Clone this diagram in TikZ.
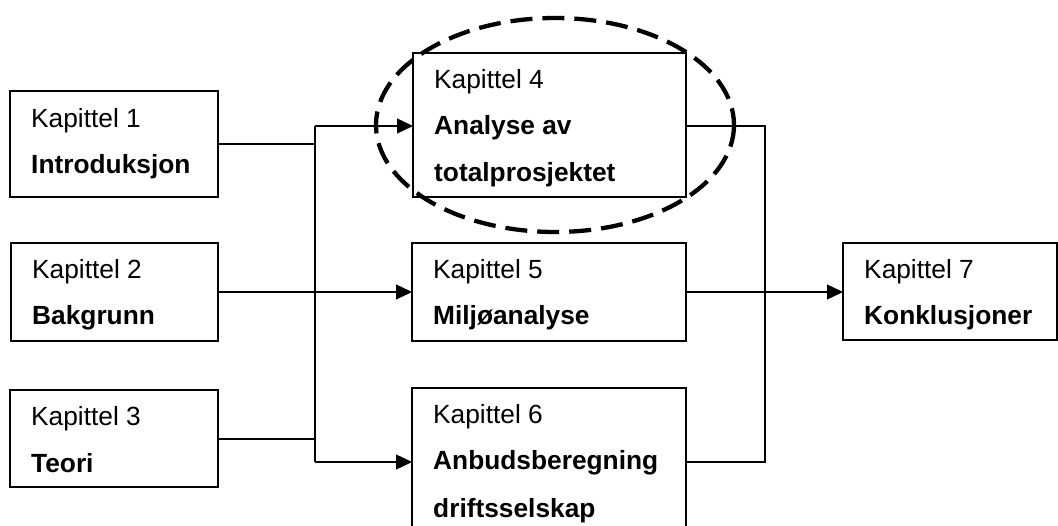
\documentclass[tikz,border=0pt]{standalone}
\usepackage{fontspec}
\setmainfont{Liberation Sans}
\usetikzlibrary{arrows.meta}
\begin{document}
\begin{tikzpicture}[x=1pt,y=-1pt,
  box/.style={draw=black, line width=1.3pt, fill=none},
  txt/.style={anchor=base west, inner sep=0pt, font=\fontsize{26.3}{30}\selectfont},
  btxt/.style={txt, font=\fontsize{26.3}{30}\selectfont\bfseries},
  conn/.style={draw=black, line width=1.3pt},
  arr/.style={conn, -{Triangle[length=16pt,width=15pt]}},
  ring/.style={draw=black, line width=4.3pt, dash pattern=on 22pt off 10pt}]
\useasboundingbox (0,0) rectangle (1058,526);
\clip (0,0) rectangle (1058,526);
\fill[white] (0,0) rectangle (1058,526);
% boxes
\path[box] (10,91) rectangle (218,197); \coordinate (b1e) at (218,144);
\node[txt] (t1a) at (31,128) {Kapittel 1};
\node[btxt] (t1b) at (31,174) {Introduksjon};
\path[box] (11,243) rectangle (218,341); \coordinate (b2e) at (218,292);
\node[txt] (t2a) at (32,279) {Kapittel 2};
\node[btxt] (t2b) at (32,325) {Bakgrunn};
\path[box] (10,390) rectangle (218,487); \coordinate (b3e) at (218,439);
\node[txt] (t3a) at (31,426) {Kapittel 3};
\node[btxt] (t3b) at (31,472) {Teori};
\path[box] (413,53) rectangle (686,197); \coordinate (b4w) at (413,126); \coordinate (b4e) at (686,126);
\node[txt] (t4a) at (434,89) {Kapittel 4};
\node[btxt] (t4b) at (434,135) {Analyse av};
\node[btxt] (t4c) at (434,182) {totalprosjektet};
\path[box] (412,243) rectangle (686,341); \coordinate (b5w) at (412,292); \coordinate (b5e) at (686,292);
\node[txt] (t5a) at (433,279) {Kapittel 5};
\node[btxt] (t5b) at (433,325) {Miljøanalyse};
\path[box] (412,388) rectangle (686,560); \coordinate (b6w) at (412,462); \coordinate (b6e) at (686,462);
\node[txt] (t6a) at (433,424) {Kapittel 6};
\node[btxt] (t6b) at (433,470) {Anbudsberegning};
\node[btxt] (t6c) at (433,517) {driftsselskap};
\path[box] (843,243) rectangle (1057,340); \coordinate (b7w) at (843,292);
\node[txt] (t7a) at (864,279) {Kapittel 7};
\node[btxt] (t7b) at (864,325) {Konklusjoner};
% left bus
\coordinate (lt) at (315,126);
\coordinate (lb) at (315,462);
\draw[conn] (b1e) -- (315,144);
\draw[conn] (b3e) -- (315,439);
\draw[conn] (lt) -- (lb);
\draw[arr] (lt) -- (b4w);
\draw[arr] (lb) -- (b6w);
\draw[arr] (b2e) -- (b5w);
% right bus
\draw[conn] (b4e) -- (765,126) -- (765,462) -- (b6e);
\draw[arr] (b5e) -- (b7w);
% dashed ellipse
\draw[ring] (555,125) ellipse [x radius=179, y radius=107];
\end{tikzpicture}
\end{document}
